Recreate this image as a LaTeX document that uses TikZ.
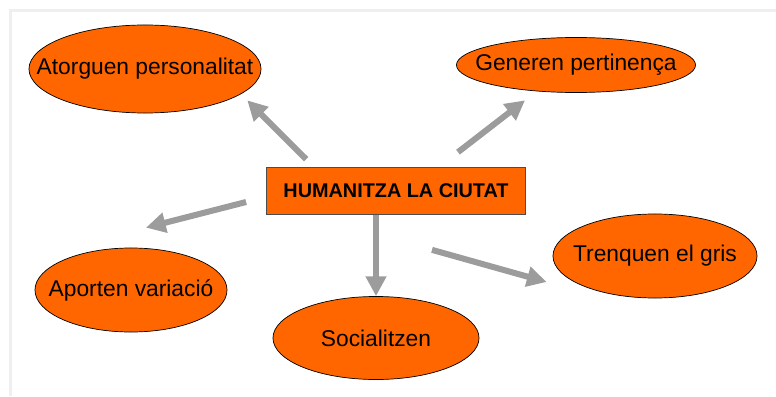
\documentclass[tikz,border=0pt]{standalone}
\usepackage{fontspec}
\setmainfont{Liberation Sans}
\usepackage{tikz}
\usetikzlibrary{
    positioning,
    arrows.meta,
    shapes.geometric,
    calc
}
\definecolor{idea}{HTML}{FF6600}
\definecolor{arrgray}{HTML}{9C9C9C}
\definecolor{framegray}{HTML}{EFEFEF}

\begin{document}
\begin{tikzpicture}[x=0.025cm, y=0.025cm,
  idea/.style={draw=black, line width=0.5pt, ellipse, fill=idea, inner sep=0pt,
               font=\fontsize{16.2}{19}\selectfont},
  hubbox/.style={draw=black!70, line width=0.5pt, fill=idea, inner sep=0pt,
                 minimum width=6.475cm, minimum height=1.175cm,
                 font=\fontsize{14.1}{17}\selectfont\bfseries},
  garr/.style={-{Triangle[length=14pt, width=14pt]}, line width=4.3pt, draw=arrgray}]

  \useasboundingbox (0,0) rectangle (776,396);

  % Light frame on top and left
  \draw[framegray, line width=2.2pt] (10.5,0) -- (10.5,385.5) -- (776,385.5);

  % Central box
  \node[hubbox] (hub) at (396,205) {HUMANITZA LA CIUTAT};

  % Ideas round it
  \node[idea, minimum width=5.8cm,  minimum height=2.2cm]   (atorg) at (145,327)
    {\makebox[0pt]{Atorguen personalitat}};
  \node[idea, minimum width=5.975cm, minimum height=1.375cm] (gener) at (576,331)
    {\makebox[0pt]{Generen pertinença}};
  \node[idea, minimum width=4.8cm,  minimum height=2.1cm]   (aport) at (131,106)
    {\makebox[0pt]{Aporten variació}};
  \node[idea, minimum width=5.15cm, minimum height=2.075cm] (socia) at (376,58)
    {\makebox[0pt]{Socialitzen}};
  \node[idea, minimum width=5.1cm,  minimum height=2.1cm]   (trenq) at (655,140)
    {\makebox[0pt]{Trenquen el gris}};

  % Grey arrows out of the box
  \draw[garr] ([shift={(40,8)}]hub.north west) -- ([shift={(20,0)}]atorg.south east);
  \draw[garr] ([shift={(62,15)}]hub.north) -- ([shift={(-51,-7.5)}]gener.south);
  \draw[garr] ([shift={(-20,-11)}]hub.west) -- ([shift={(15,20)}]aport.north);
  \draw[garr] (hub.south -| socia.north) -- (socia.north);
  \draw[garr] ([shift={(36,-35)}]hub.south) -- ([shift={(-6,-26)}]trenq.west);
\end{tikzpicture}
\end{document}
